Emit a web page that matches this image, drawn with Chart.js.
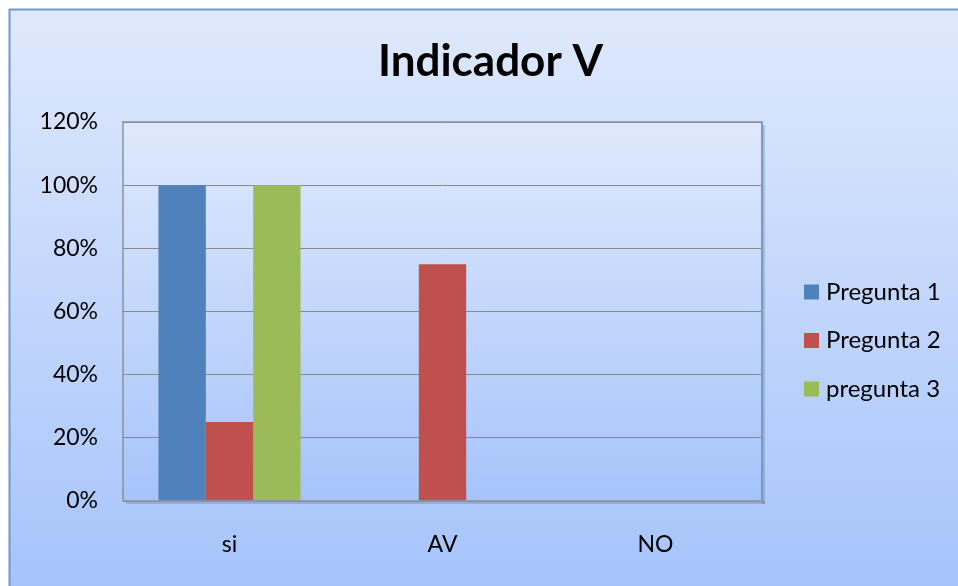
<!DOCTYPE html>
<html><head><meta charset="utf-8">
<script src="https://cdn.jsdelivr.net/npm/chart.js@4.4.0/dist/chart.umd.min.js"></script>
<style>html,body{margin:0;padding:0;background:#fff}#c{display:block}</style>
</head><body>
<canvas id="c" width="958" height="586"></canvas>
<script>
const categories = ["si", "AV", "NO"];
const seriesNames = ["Pregunta 1", "Pregunta 2", "pregunta 3"];
const pregunta1 = [100, 0, 0];
const pregunta2 = [25, 75, 0];
const pregunta3 = [100, 0, 0];
const seriesColors = ["#4F81BD", "#C0504D", "#9BBB59"];
const titleText = "Indicador V";
const FONT = "Lato";

const bgPlugin = {
  id: 'bg',
  beforeDraw(chart) {
    const ctx = chart.ctx, W = chart.width, H = chart.height;
    ctx.save();
    ctx.fillStyle = '#fff';
    ctx.fillRect(0, 0, W, H);
    let g = ctx.createLinearGradient(0, 9, 0, H);
    g.addColorStop(0, '#dfe9fc');
    g.addColorStop(1, '#a6c4fb');
    ctx.fillStyle = g;
    ctx.fillRect(9, 9, W - 9, H - 9);
    ctx.strokeStyle = '#6c98cf';
    ctx.lineWidth = 2;
    ctx.beginPath();
    ctx.moveTo(9.5, H + 2); ctx.lineTo(9.5, 9.5); ctx.lineTo(W + 2, 9.5);
    ctx.stroke();
    const a = chart.chartArea;
    ctx.fillStyle = 'rgba(80,90,110,0.25)';
    ctx.fillRect(a.left + 3, a.bottom, a.right - a.left, 3);
    ctx.fillRect(a.right, a.top + 3, 3, a.bottom - a.top);
    let g2 = ctx.createLinearGradient(0, a.top, 0, a.bottom);
    g2.addColorStop(0, '#dfe9fc');
    g2.addColorStop(1, '#a6c4fb');
    ctx.fillStyle = g2;
    ctx.fillRect(a.left, a.top, a.right - a.left, a.bottom - a.top);
    ctx.restore();
  },
  afterDatasetsDraw(chart) {
    const ctx = chart.ctx, a = chart.chartArea;
    ctx.save();
    ctx.strokeStyle = '#8a929c';
    ctx.lineWidth = 1.5;
    ctx.strokeRect(a.left, a.top, a.right - a.left, a.bottom - a.top);
    ctx.strokeStyle = '#6c98cf';
    ctx.beginPath(); ctx.moveTo(a.right, a.top); ctx.lineTo(a.right, a.bottom); ctx.stroke();
    ctx.fillStyle = '#000';
    ctx.font = 'bold 44px ' + FONT;
    ctx.textAlign = 'center';
    ctx.textBaseline = 'middle';
    ctx.fillText(titleText, 490.5, 62);
    ctx.font = '24px ' + FONT;
    ctx.textAlign = 'left';
    chart.data.datasets.forEach((ds, i) => {
      const y = 292 + i * 48.5;
      ctx.fillStyle = ds.backgroundColor;
      ctx.fillRect(804, y - 7.5, 15, 15);
      ctx.fillStyle = '#000';
      ctx.fillText(ds.label, 826, y);
    });
    ctx.restore();
  }
};

new Chart(document.getElementById('c'), {
  type: 'bar',
  data: {
    labels: categories,
    datasets: [
      { label: seriesNames[0], data: pregunta1, backgroundColor: seriesColors[0] },
      { label: seriesNames[1], data: pregunta2, backgroundColor: seriesColors[1] },
      { label: seriesNames[2], data: pregunta3, backgroundColor: seriesColors[2] }
    ]
  },
  options: {
    responsive: false,
    animation: false,
    layout: { padding: { top: 122, right: 196, left: 0, bottom: 0 } },
    datasets: { bar: { categoryPercentage: 0.667, barPercentage: 1.0 } },
    plugins: { legend: { display: false }, title: { display: false }, tooltip: { enabled: false } },
    scales: {
      x: {
        grid: { display: false, drawTicks: false },
        border: { display: false },
        ticks: { color: '#000', font: { family: FONT, size: 23 }, padding: 30 },
        afterFit(s) { s.height = 85; }
      },
      y: {
        min: 0, max: 120,
        grid: { color: '#8a8a8a', lineWidth: 1, drawTicks: false },
        border: { display: false },
        ticks: { stepSize: 20, color: '#000', font: { family: FONT, size: 23 }, padding: 25,
          callback: v => v + '%' },
        afterFit(s) { s.width = 123; }
      }
    }
  },
  plugins: [bgPlugin]
});
</script>
</body></html>
